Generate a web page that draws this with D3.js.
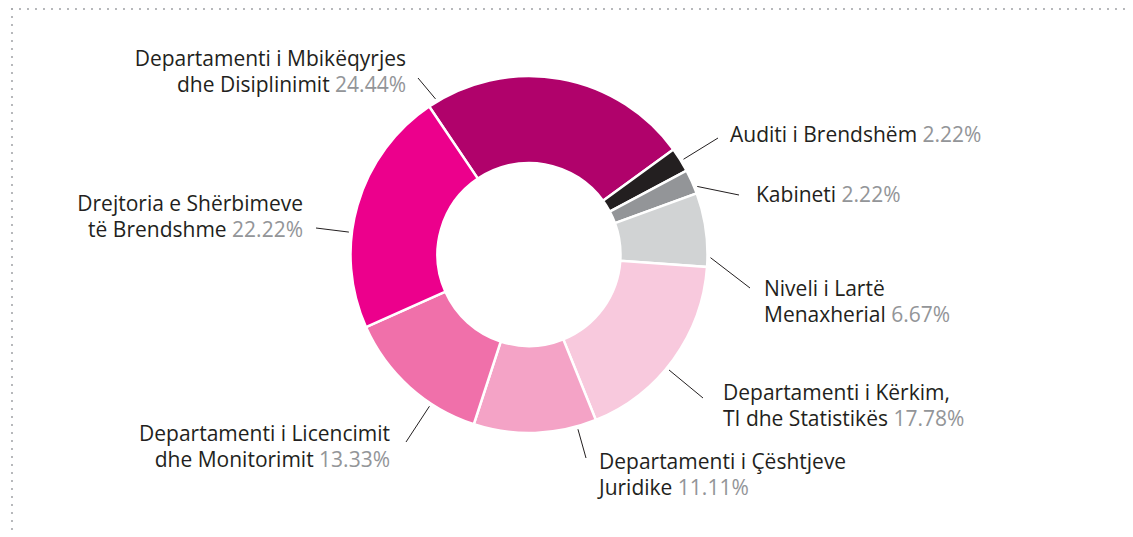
<!DOCTYPE html>
<html>
<head>
<meta charset="utf-8">
<script src="https://cdn.jsdelivr.net/npm/d3@7"></script>
<style>
  html, body { margin: 0; padding: 0; background: #fff; }
  svg { display: block; }
  text { font-family: "Open Sans", Lato, sans-serif; }
</style>
</head>
<body>
<svg id="chart" width="1133" height="537"></svg>
<script>
// data, clockwise from the top-left slice
const categories = [
  'Departamenti i Mbikëqyrjes dhe Disiplinimit',
  'Auditi i Brendshëm',
  'Kabineti',
  'Niveli i Lartë Menaxherial',
  'Departamenti i Kërkim, TI dhe Statistikës',
  'Departamenti i Çështjeve Juridike',
  'Departamenti i Licencimit dhe Monitorimit',
  'Drejtoria e Shërbimeve të Brendshme'
]
const shares = [24.44, 2.22, 2.22, 6.67, 17.78, 11.11, 13.33, 22.22]
const labelLines = [
  ['Departamenti i Mbikëqyrjes', 'dhe Disiplinimit'],
  ['Auditi i Brendshëm'],
  ['Kabineti'],
  ['Niveli i Lartë', 'Menaxherial'],
  ['Departamenti i Kërkim,', 'TI dhe Statistikës'],
  ['Departamenti i Çështjeve', 'Juridike'],
  ['Departamenti i Licencimit', 'dhe Monitorimit'],
  ['Drejtoria e Shërbimeve', 'të Brendshme']
]
const colors = ['#b0026b', '#231f20', '#939598', '#d1d3d4', '#f8c9dd', '#f4a3c6', '#f070aa', '#ec008c']

// label placement (text anchor point + where the leader line ends)
const labelLayout = [
  { x: 406, y: 66,  anchor: 'end',   lx: 418, ly: 78 },
  { x: 730, y: 142, anchor: 'start', lx: 718, ly: 138 },
  { x: 756, y: 202, anchor: 'start', lx: 739, ly: 195 },
  { x: 764, y: 296, anchor: 'start', lx: 750, ly: 288 },
  { x: 723, y: 400, anchor: 'start', lx: 703, ly: 398 },
  { x: 599, y: 469, anchor: 'start', lx: 586, ly: 458 },
  { x: 390, y: 441, anchor: 'end',   lx: 406, ly: 442 },
  { x: 303, y: 211, anchor: 'end',   lx: 316, ly: 228 }
]

const cx = 529, cy = 254.5,
  outer = 178.5, inner = 91.5,
  lineGap = 25.5,
  start = -34 * Math.PI / 180

const svg = d3.select('#chart')

// dotted frame, top and left
const frame = svg.append('g')
  .attr('class', 'frame')
  .style('stroke', '#a7a9ac')
  .style('stroke-width', 2.2)
  .style('stroke-linecap', 'round')
  .style('stroke-dasharray', '0,8')
frame.append('line').attr('x1', 12).attr('y1', 9).attr('x2', 1128).attr('y2', 9)
frame.append('line').attr('x1', 12).attr('y1', 9).attr('x2', 12).attr('y2', 537)

const pie = d3.pie()
  .sort(null)
  .value(d => d)
  .startAngle(start)
  .endAngle(start + 2 * Math.PI)

const arcs = pie(shares)

const arc = d3.arc()
  .innerRadius(inner)
  .outerRadius(outer)

const g = svg.append('g')
  .attr('transform', `translate(${ cx },${ cy })`)

g.selectAll('path.slice')
  .data(arcs)
  .enter().append('path')
    .attr('class', 'slice')
    .attr('d', arc)
    .style('fill', (d, i) => colors[i])
    .style('stroke', '#fff')
    .style('stroke-width', 2.5)
    .style('stroke-linejoin', 'miter')

// leader lines: start on the slice, as close to the label as the slice allows
const polar = (a, r) => [cx + r * Math.sin(a), cy - r * Math.cos(a)]
const TAU = 2 * Math.PI

arcs.forEach((d, i) => {
  let L = labelLayout[i]
  let mid = (d.startAngle + d.endAngle) / 2
  let a = Math.atan2(L.lx - cx, -(L.ly - cy))
  let da = a - mid
  da = ((da + Math.PI) % TAU + TAU) % TAU - Math.PI
  a = mid + da
  let m = Math.min(3 * Math.PI / 180, (d.endAngle - d.startAngle) / 4)
  a = Math.max(d.startAngle + m, Math.min(d.endAngle - m, a))
  let p = polar(a, outer + 3)

  svg.append('line')
    .attr('class', 'leader')
    .attr('x1', p[0]).attr('y1', p[1])
    .attr('x2', L.lx).attr('y2', L.ly)
    .style('stroke', '#231f20')
    .style('stroke-width', 1)
})

// labels
labelLines.forEach((lines, i) => {
  let L = labelLayout[i]
  let t = svg.append('text')
    .attr('class', 'label')
    .attr('text-anchor', L.anchor)
    .style('font-size', '21px')
    .style('fill', '#231f20')

  lines.forEach((s, j) => {
    t.append('tspan')
      .attr('x', L.x)
      .attr('y', L.y + j * lineGap)
      .text(j === lines.length - 1 ? s + ' ' : s)
  })
  t.append('tspan')
    .style('fill', '#939598')
    .text(d3.format('.2f')(shares[i]) + '%')
})
</script>
</body>
</html>
